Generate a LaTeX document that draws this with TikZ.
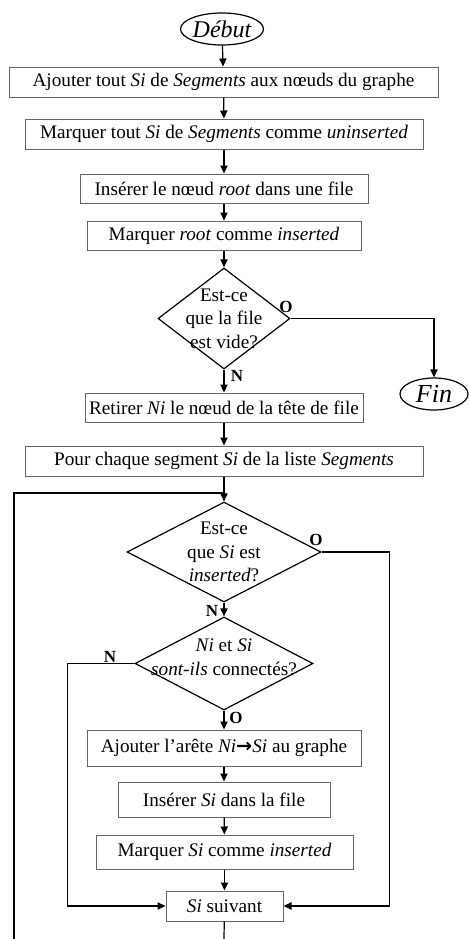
\documentclass[tikz,border=0pt]{standalone}
\usepackage{fontspec}
\setmainfont{Liberation Serif}
\newfontfamily\flechefont{DejaVu Sans}
\usetikzlibrary{shapes.geometric,arrows.meta}
\tikzset{
  boite/.style={draw=black!60,line width=0.5pt,inner sep=0pt,minimum height=15pt},
  choix/.style={diamond,draw,line width=0.6pt,inner sep=0pt},
  borne/.style={ellipse,draw,line width=0.6pt,inner sep=0pt,font=\fontsize{12}{14}\selectfont\itshape},
  fleche/.style={-{Triangle[length=4pt,width=3.6pt]},line width=0.6pt},
  rep/.style={font=\fontsize{8.5}{10}\selectfont\bfseries}
}
\begin{document}
\begin{tikzpicture}[x=0.5pt,y=-0.5pt,font=\fontsize{9.6}{11.75}\selectfont]
\useasboundingbox (0,0) rectangle (469,939);
\node[borne,minimum width=40pt,minimum height=16pt] (debut) at (222,29) {Début};
\node[boite,minimum width=214.5pt] (ajout) at (223.5,82) {Ajouter tout \textit{Si} de \textit{Segments} aux nœuds du graphe};
\node[boite,minimum width=199pt] (marqtout) at (224,134) {Marquer tout \textit{Si} de \textit{Segments} comme \textit{uninserted}};
\node[boite,minimum width=144pt,minimum height=14.5pt] (insroot) at (224,188.5) {Insérer le nœud \textit{root} dans une file};
\node[boite,minimum width=137pt,minimum height=14.5pt] (marqroot) at (224,235.5) {Marquer \textit{root} comme \textit{inserted}};
\node[choix,minimum width=66pt,minimum height=50.5pt,label={[align=center]center:{Est-ce\\que la file\\est vide?}}] (vide) at (224,318.5) {};
\node[borne,font=\fontsize{13}{15}\selectfont\itshape,minimum width=34pt,minimum height=16pt] (fin) at (434,394) {Fin};
\node[boite,minimum width=139pt,minimum height=14.5pt] (retirer) at (224,407.5) {Retirer \textit{Ni} le nœud de la tête de file};
\node[boite,minimum width=199pt] (pour) at (224,461) {Pour chaque segment \textit{Si} de la liste \textit{Segments}};
\node[choix,minimum width=97pt,minimum height=50pt,label={[align=center]center:{Est-ce\\que \textit{Si} est\\\textit{inserted}?}}] (testins) at (224,552) {};
\node[choix,minimum width=89pt,minimum height=46.5pt,label={[align=center,yshift=3pt]center:{\textit{Ni} et \textit{Si}\\\textit{sont-ils} connectés?}}] (connect) at (224,663.5) {};
\node[boite,minimum width=137pt,minimum height=18pt] (arete) at (224,748) {Ajouter l’arête \textit{Ni}{\flechefont\bfseries →}\textit{Si} au graphe};
\node[boite,minimum width=106pt,minimum height=17.5pt] (inssi) at (224,799.5) {Insérer \textit{Si} dans la file};
\node[boite,minimum width=128.5pt,minimum height=17pt] (marqsi) at (224.5,852) {Marquer \textit{Si} comme \textit{inserted}};
\node[boite,minimum width=58.5pt] (suivant) at (224.5,906) {\textit{Si} suivant};
% reponses
\node[rep] (o1) at (286,307) {O};
\node[rep] (n1) at (237,376) {N};
\node[rep] (o2) at (316,540) {O};
\node[rep] (n2) at (212,611) {N};
\node[rep] (n3) at (110,657) {N};
\node[rep] (o3) at (236,718) {O};
% liaisons
\draw[fleche] (debut) -- (ajout);
\draw[fleche] (ajout) -- (marqtout);
\draw[fleche] (marqtout) -- (insroot);
\draw[fleche] (insroot) -- (marqroot);
\draw[fleche] (marqroot) -- (vide);
\draw[fleche] (vide.east) -| (fin.north);
\draw[fleche] (vide) -- (retirer);
\draw[fleche] (retirer) -- (pour);
\draw[fleche] (pour) -- (testins);
\draw[fleche] (testins) -- (connect);
\draw[fleche] (connect) -- (arete);
\draw[fleche] (arete) -- (inssi);
\draw[fleche] (inssi) -- (marqsi);
\draw[fleche] (marqsi) -- (suivant);
\draw[fleche] (testins.east) -- ++(68,0) |- (suivant.east);
\draw[fleche] (connect.west) -- ++(-67,0) |- (suivant.west);
% boucle
\coordinate (bas) at (224,939);
\coordinate (coin) at (14,939);
\coordinate (haut) at (224,493);
\draw[line width=0.6pt] (suivant) -- (bas);
\draw[line width=0.6pt] (coin) |- (haut);
\end{tikzpicture}
\end{document}
